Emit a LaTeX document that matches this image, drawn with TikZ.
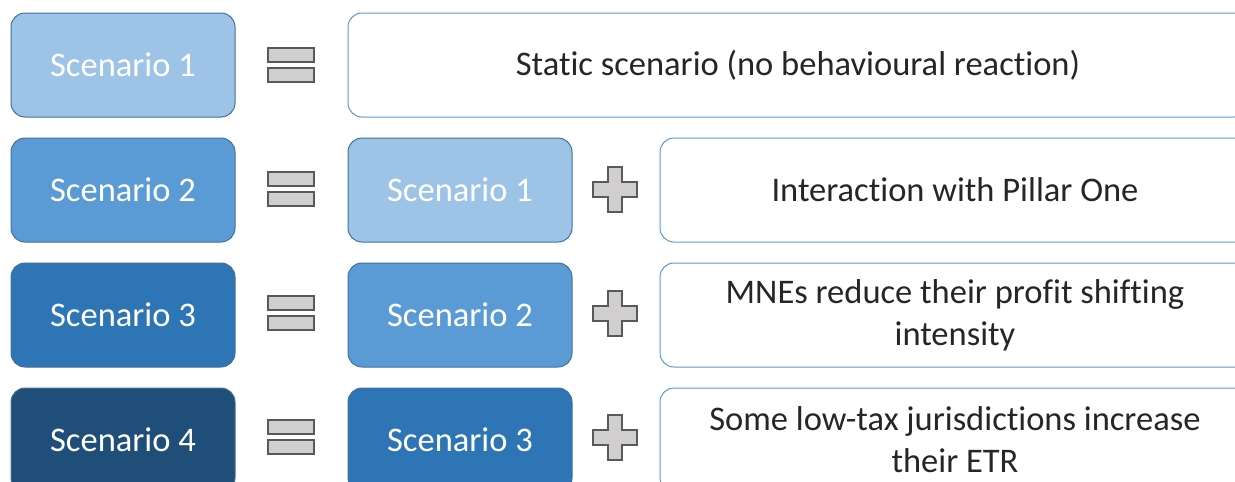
\documentclass[tikz,border=0pt]{standalone}
\usepackage{fontspec}
\setmainfont[Ligatures=NoCommon]{Carlito}
\usetikzlibrary{positioning}

\definecolor{scenA}{HTML}{9DC3E6}
\definecolor{scenB}{HTML}{5B9BD5}
\definecolor{scenC}{HTML}{2E75B6}
\definecolor{scenD}{HTML}{1F4E79}
\definecolor{scenEdge}{HTML}{41719C}
\definecolor{descEdge}{HTML}{5B9BD5}
\definecolor{signFill}{HTML}{D0CECE}
\definecolor{signEdge}{HTML}{595959}
\definecolor{descText}{HTML}{262626}

\tikzset{
  scen/.style={draw=scenEdge, line width=1pt, rounded corners=14pt,
    minimum width=224pt, minimum height=104pt, inner sep=0pt,
    text=white, font=\fontsize{34.5}{42}\selectfont},
  desc/.style={draw=descEdge, line width=1pt, fill=white, rounded corners=14pt,
    minimum height=104pt, inner sep=0pt, align=center,
    text=descText, font=\fontsize{34.5}{42}\selectfont},
  sign/.style={draw=signEdge, fill=signFill, line width=1.2pt},
}

\begin{document}
\begin{tikzpicture}[x=1pt,y=-1pt]
    \useasboundingbox (0,0) rectangle (1235,482);
    \clip (0,0) rectangle (1235,482);

    % left column
    \node[scen, fill=scenA] (s1) at (123,65) {Scenario 1};
    \node[scen, fill=scenB, below=20pt of s1] (s2) {Scenario 2};
    \node[scen, fill=scenC, below=20pt of s2] (s3) {Scenario 3};
    \node[scen, fill=scenD, below=20pt of s3] (s4) {Scenario 4};

    % previous scenario
    \node[scen, fill=scenA, right=112pt of s2] (m2) {Scenario 1};
    \node[scen, fill=scenB, right=112pt of s3] (m3) {Scenario 2};
    \node[scen, fill=scenC, right=112pt of s4] (m4) {Scenario 3};

    % descriptions
    \node[desc, minimum width=900pt, right=112pt of s1] (d1) {Static scenario (no behavioural reaction)};
    \node[desc, minimum width=590pt, right=87pt of m2] (d2) {Interaction with Pillar One};
    \node[desc, minimum width=590pt, right=87pt of m3] (d3) {MNEs reduce their profit shifting\\intensity};
    \node[desc, minimum width=590pt, right=87pt of m4] (d4) {Some low-tax jurisdictions increase\\their ETR};

    % equals signs
    \foreach \y in {65,189,313,437} {
        \draw[sign] (268,{\y-17}) rectangle (314,{\y-3});
        \draw[sign] (268,{\y+3}) rectangle (314,{\y+17});
    }
    % plus signs
    \foreach \y in {189,313,437} {
        \draw[sign] (608,{\y-22}) -- (622,{\y-22}) -- (622,{\y-7}) -- (637,{\y-7})
            -- (637,{\y+8}) -- (622,{\y+8}) -- (622,{\y+23}) -- (608,{\y+23})
            -- (608,{\y+8}) -- (593,{\y+8}) -- (593,{\y-7}) -- (608,{\y-7}) -- cycle;
    }
\end{tikzpicture}
\end{document}
